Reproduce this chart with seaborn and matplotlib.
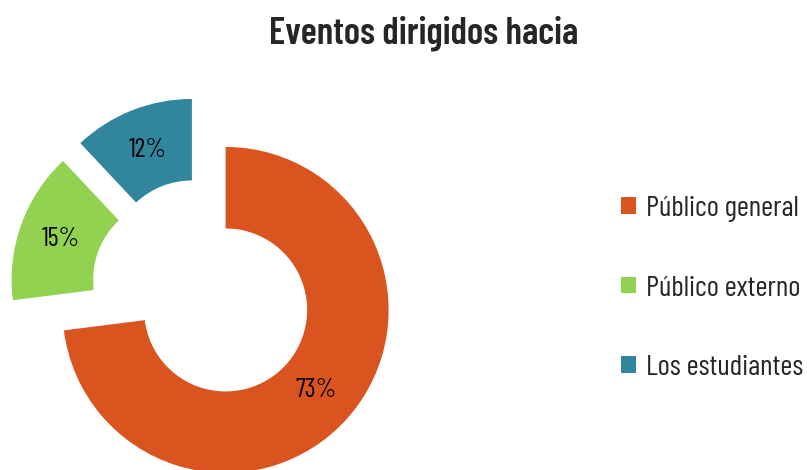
import matplotlib
matplotlib.use("Agg")
import matplotlib.pyplot as plt
import seaborn as sns

# data
categories = ["Público general", "Público externo", "Los estudiantes"]
shares = [73, 15, 12]
colors = ["#D9541F", "#93D150", "#31859C"]

sns.set_theme(style="white")
plt.rcParams["font.family"] = ["Barlow Condensed", "DejaVu Sans"]

fig = plt.figure(figsize=(8.07, 4.70), dpi=100)
# axes placed so that 1 data unit = 163 px and the pie centre sits at (203, 290)
ax = fig.add_axes([0, 0, 420 / 807, 390 / 470])
wedges, _, pct = ax.pie(
    shares,
    colors=colors,
    startangle=90,
    counterclock=False,
    explode=[0.185] * 3,
    radius=1,
    wedgeprops=dict(width=0.5, linewidth=0),
    autopct="%1.0f%%",
    pctdistance=0.74,
    textprops=dict(fontsize=19, color="black"),
)
ax.set_xlim(-203 / 163, 217 / 163)
ax.set_ylim(-180 / 163, 210 / 163)
ax.set_aspect("auto")
ax.axis("off")

fig.text(0.525, 0.93, "Eventos dirigidos hacia", ha="center", va="center",
         fontsize=27, fontweight="semibold")

fig.legend(wedges, categories, loc="center left", bbox_to_anchor=(621 / 807, 1 - 288.5 / 470),
           frameon=False, fontsize=21, handlelength=0.5, handleheight=0.5,
           handletextpad=0.35, labelspacing=1.83, borderpad=0, borderaxespad=0)

fig.savefig("out.png", dpi=100)
